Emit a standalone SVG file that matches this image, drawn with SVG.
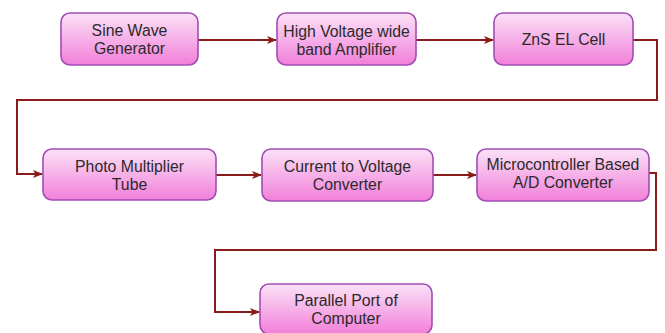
<svg xmlns="http://www.w3.org/2000/svg" width="665" height="333" viewBox="0 0 665 333">
<defs>
<linearGradient id="g" x1="0" y1="0" x2="0" y2="1">
<stop offset="0" stop-color="#fbe2f7"/>
<stop offset="1" stop-color="#f27fd9"/>
</linearGradient>
<marker id="a" markerWidth="10" markerHeight="8" refX="9" refY="4" orient="auto" markerUnits="userSpaceOnUse">
<path d="M0,0 L10,4 L0,8 L2.5,4 Z" fill="#8b1a1a"/>
</marker>
<style>
.b{fill:url(#g);stroke:#a24bb5;stroke-width:1.6}
.t{font-family:"Liberation Sans",Arial,sans-serif;font-size:15.8px;fill:#2a2a2a;text-anchor:middle}
.c{fill:none;stroke:#8b1a1a;stroke-width:2;marker-end:url(#a)}
</style>
</defs>
<rect width="665" height="333" fill="#fff"/>
<g id="connectors">
<path class="c" d="M198,40 H276"/>
<path class="c" d="M416,40 H493"/>
<path class="c" d="M633,40 H657 V100 H17 V174 H42"/>
<path class="c" d="M216,175 H261"/>
<path class="c" d="M433,175 H476"/>
<path class="c" d="M649,173 H656 V250 H215 V312 H259"/>
</g>
<g id="n1"><rect class="b" x="61" y="13" width="137" height="52" rx="9"/><text class="t" x="129.5" y="36">Sine Wave</text><text class="t" x="129.5" y="54">Generator</text></g>
<g id="n2"><rect class="b" x="277" y="13" width="139" height="52" rx="9"/><text class="t" x="346.5" y="37">High Voltage wide</text><text class="t" x="346.5" y="55">band Amplifier</text></g>
<g id="n3"><rect class="b" x="494" y="13" width="139" height="52" rx="9"/><text class="t" x="563.5" y="45">ZnS EL Cell</text></g>
<g id="n4"><rect class="b" x="43" y="149" width="173" height="51" rx="9"/><text class="t" x="129.5" y="172">Photo Multiplier</text><text class="t" x="129.5" y="190">Tube</text></g>
<g id="n5"><rect class="b" x="262" y="149" width="171" height="52" rx="9"/><text class="t" x="347.5" y="172">Current to Voltage</text><text class="t" x="347.5" y="190">Converter</text></g>
<g id="n6"><rect class="b" x="477" y="149" width="172" height="52" rx="9"/><text class="t" x="563" y="170">Microcontroller Based</text><text class="t" x="563" y="188">A/D Converter</text></g>
<g id="n7"><rect class="b" x="260" y="284" width="172" height="50" rx="9"/><text class="t" x="346" y="306">Parallel Port of</text><text class="t" x="346" y="324">Computer</text></g>
</svg>
